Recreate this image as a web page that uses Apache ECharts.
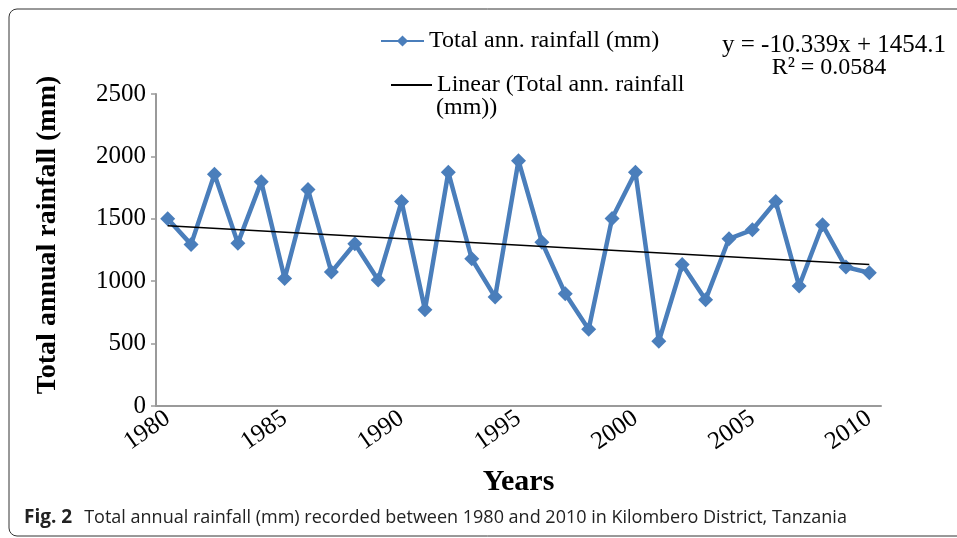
<!DOCTYPE html>
<html>
<head>
<meta charset="utf-8">
<script src="https://cdn.jsdelivr.net/npm/echarts@6/dist/echarts.min.js"></script>
<style>
html,body{margin:0;padding:0;background:#fff;}
#chart{width:957px;height:538px;}
</style>
</head>
<body>
<div id="chart"></div>
<script>
const years = ['1980','1981','1982','1983','1984','1985','1986','1987','1988','1989','1990','1991','1992','1993','1994','1995','1996','1997','1998','1999','2000','2001','2002','2003','2004','2005','2006','2007','2008','2009','2010'];
const rainfall = [1500,1295,1857,1305,1796,1022,1734,1073,1300,1010,1638,772,1873,1180,873,1966,1313,900,614,1503,1873,518,1134,852,1340,1412,1638,961,1452,1113,1068];
const trendYears = ['1980','2010'];
const trendValues = [1443.8,1133.6];
const yTicks = [0,500,1000,1500,2000,2500];
const seriesName = 'Total ann. rainfall (mm)';
const trendName = 'Linear (Total ann. rainfall (mm))';
const trendLegendLine1 = 'Linear (Total ann. rainfall';
const trendLegendLine2 = '(mm))';
const yTitle = 'Total annual rainfall (mm)';
const xTitle = 'Years';
const equationText = 'y = -10.339x + 1454.1';
const r2Text = 'R² = 0.0584';
const captionBold = 'Fig. 2';
const captionText = 'Total annual rainfall (mm) recorded between 1980 and 2010 in Kilombero District, Tanzania';

const serif = 'Liberation Serif';
const blue = '#4a7ebb';
const axisGray = '#9a9a9a';

const chart = echarts.init(document.getElementById('chart'), null, {renderer:'canvas'});
chart.setOption({
  animation:false,
  backgroundColor:'#fff',
  grid:{left:156,right:76,top:94,bottom:132,containLabel:false},
  legend:[
    {data:[seriesName],left:380,top:29,padding:0,itemWidth:43,itemHeight:14,itemGap:0,
     textStyle:{fontFamily:serif,fontSize:24,color:'#000'}},
    {data:[trendName],left:390,top:73,padding:0,itemWidth:41,itemHeight:2,
     formatter:()=> trendLegendLine1,
     textStyle:{fontFamily:serif,fontSize:24,color:'#000'}}
  ],
  xAxis:{
    type:'category',data:years,boundaryGap:true,
    name:xTitle,nameLocation:'middle',nameGap:61,
    nameTextStyle:{fontFamily:serif,fontSize:30,fontWeight:'bold',color:'#000'},
    axisLine:{lineStyle:{color:axisGray,width:2}},
    axisTick:{show:false},
    axisLabel:{interval:4,rotate:35,margin:10,fontFamily:serif,fontSize:25,color:'#000'},
    splitLine:{show:false}
  },
  yAxis:{
    type:'value',min:0,max:2500,interval:500,
    axisLine:{show:true,lineStyle:{color:axisGray,width:2}},
    axisTick:{show:true,length:5,inside:false,lineStyle:{color:axisGray,width:1.5}},
    axisLabel:{margin:10,fontFamily:serif,fontSize:25,color:'#000',
      formatter:v=> yTicks.includes(v)? String(v):''},
    splitLine:{show:false}
  },
  series:[
    {name:seriesName,type:'line',data:rainfall,
     symbol:'diamond',symbolSize:15,
     lineStyle:{color:blue,width:4.5},
     itemStyle:{color:blue},z:3},
    {name:trendName,type:'line',data:trendYears.map((y,i)=>[y,trendValues[i]]),
     symbol:'none',lineStyle:{color:'#000',width:1.5},itemStyle:{color:'#000'},z:4}
  ],
  graphic:[
    {type:'rect',shape:{x:9,y:9,width:1000,height:527,r:8},
     style:{fill:'none',stroke:'#333',lineWidth:1},silent:true},
    {type:'text',x:436,y:108,style:{text:trendLegendLine2,font:'24px "Liberation Serif"',fill:'#000',textAlign:'left',textVerticalAlign:'middle'}},
    {type:'text',x:48,y:235,rotation:Math.PI/2,style:{text:yTitle,font:'bold 28px "Liberation Serif"',fill:'#000',textAlign:'center',textVerticalAlign:'middle'}},
    {type:'text',x:834,y:45,style:{text:equationText,font:'25px "Liberation Serif"',fill:'#000',textAlign:'center',textVerticalAlign:'middle'}},
    {type:'text',x:829,y:68,style:{text:r2Text,font:'24px "Liberation Serif"',fill:'#000',textAlign:'center',textVerticalAlign:'middle'}},
    {type:'text',x:24,y:518,style:{
      text:'{b|'+captionBold+'}{n|'+captionText+'}',
      textVerticalAlign:'middle',
      rich:{
        b:{fontFamily:'Open Sans',fontSize:19,fontWeight:'bold',fill:'#222'},
        n:{fontFamily:'Open Sans',fontSize:18,fill:'#222',padding:[0,0,0,12]}
      }}}
  ]
});
</script>
</body>
</html>
